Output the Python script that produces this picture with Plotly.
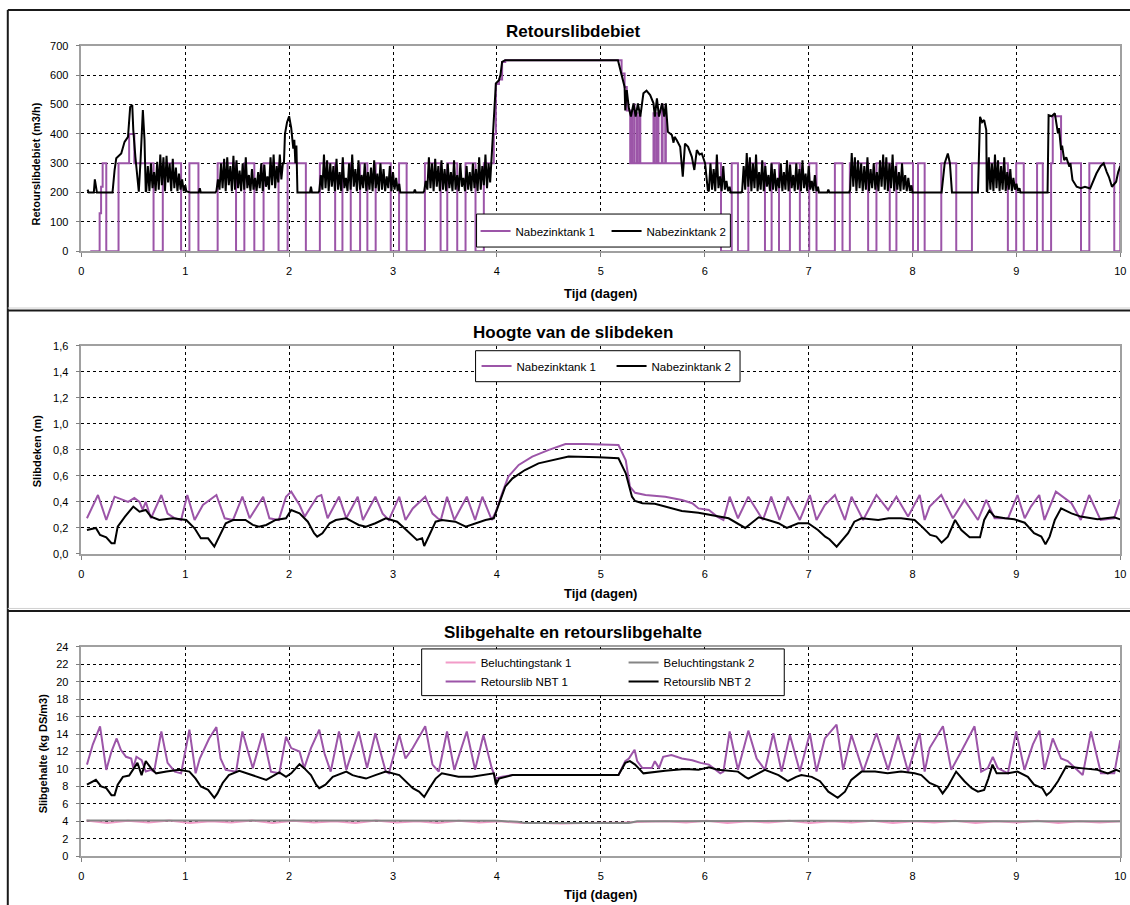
import numpy as np
import plotly.graph_objects as go

W, H = 1130, 905
FONT = "Liberation Sans, Arial, sans-serif"
PURPLE = "#9C55A8"
BLACK = "#000000"
PINK = "#F29BC8"
GRAY = "#858585"

# ---------------- Panel 1: Retourslibdebiet (m3/h) ----------------
# Nabezinktank 1 (step series: value holds until next time)
nbt1_flow_t = [0.086, 0.176, 0.19, 0.205, 0.24, 0.358, 0.46, 0.51, 0.695, 0.784,
               0.96, 1.04, 1.127, 1.312, 1.489, 1.569, 1.665, 1.754, 1.898, 1.985,
               2.161, 2.296, 2.443, 2.513, 2.593, 2.683, 2.753, 2.833, 2.978, 3.058,
               3.131, 3.307, 3.458, 3.522, 3.618, 3.698, 3.794, 3.874, 3.954, 3.97,
               3.99, 4.02, 4.05, 4.08, 5.165, 5.20, 5.229, 5.25, 5.283, 5.29,
               5.30, 5.32, 5.325, 5.347, 5.355, 5.375, 5.38, 5.507, 5.52, 5.54,
               5.555, 5.587, 5.595, 5.62, 5.626, 6.157, 6.26, 6.32,
               6.42, 6.58, 6.644, 6.715, 6.82, 6.916, 7.006, 7.076, 7.253, 7.326,
               7.397, 7.573, 7.653, 7.781, 7.845, 8.005, 8.053, 8.117, 8.277, 8.421,
               8.572, 8.918, 8.998, 9.071, 9.199, 9.254, 9.334, 9.35, 9.43, 9.622,
               9.702, 9.942, 10.0]
nbt1_flow_v = [0, 130, 220, 300, 0, 300, 400, 300, 0, 300,
               0, 300, 0, 300, 0, 300, 0, 300, 0, 300,
               0, 300, 0, 300, 0, 300, 0, 300, 0, 300,
               0, 300, 0, 300, 0, 300, 0, 300, 300, 400,
               570, 585, 645, 651, 651, 606, 560, 480, 300, 480,
               300, 500, 300, 470, 300, 460, 300, 470, 300, 470,
               300, 500, 300, 480, 300, 0, 300, 0,
               300, 0, 300, 0, 300, 0, 300, 0, 300, 0,
               300, 0, 300, 0, 300, 0, 300, 0, 300, 0,
               300, 0, 300, 0, 300, 0, 300, 460, 300, 0,
               300, 0, 300]

# Nabezinktank 2: smooth parts (key points)
nbt2_key_t = [0.06, 0.07, 0.12, 0.13, 0.15, 0.30, 0.32, 0.336, 0.384, 0.416,
              0.449, 0.47, 0.49, 0.50, 0.52, 0.553, 0.57, 0.592, 0.608, 0.62,
              1.01, 1.05, 1.13, 1.14, 1.15, 1.29,
              1.95, 1.96, 1.98, 2.00, 2.02, 2.04, 2.05, 2.06, 2.07, 2.08, 2.20, 2.21, 2.22, 2.28,
              3.07, 3.20, 3.21, 3.22, 3.29,
              3.963, 3.99, 4.02, 4.034, 4.05, 4.08, 5.165, 5.20, 5.229, 5.235,
              5.25, 5.27, 5.29, 5.315, 5.335, 5.357, 5.38, 5.41, 5.44, 5.475,
              5.507, 5.52, 5.54, 5.56, 5.59, 5.61, 5.626, 5.645, 5.684, 5.70,
              5.71, 5.73, 5.764, 5.789, 5.81, 5.84, 5.876, 5.90, 5.924, 5.95,
              5.972, 6.004, 6.03,
              6.25, 6.35,
              7.10, 7.18, 7.19, 7.20, 7.39,
              8.00, 8.28, 8.31, 8.34, 8.36, 8.38, 8.63, 8.65, 8.67, 8.69, 8.71, 8.715,
              9.04, 9.30, 9.31, 9.34, 9.37, 9.40, 9.41, 9.43, 9.44, 9.46,
              9.48, 9.51, 9.52, 9.54, 9.58, 9.62, 9.66, 9.71, 9.74, 9.77,
              9.81, 9.84, 9.87, 9.89, 9.92, 9.96, 9.98, 10.0]
nbt2_key_v = [210, 200, 200, 245, 200, 200, 277, 317, 333, 373,
              390, 492, 498, 413, 322, 203, 311, 481, 379, 203,
              205, 200, 200, 215, 200, 200,
              300, 400, 440, 460, 420, 350, 380, 300, 360, 200, 200, 220, 200, 200,
              200, 200, 210, 200, 200,
              402, 572, 583, 600, 645, 651, 651, 606, 560, 480,
              549, 487, 459, 504, 459, 504, 459, 538, 547, 532,
              504, 459, 521, 459, 504, 459, 504, 407, 396, 370,
              390, 379, 356, 254, 367, 356, 322, 277, 345, 330,
              333, 299, 208,
              200, 200,
              200, 200, 210, 200, 200,
              200, 200, 300, 333, 300, 200, 200, 458, 440, 447, 413, 203,
              200, 200, 464, 460, 470, 402, 420, 345, 360, 311,
              320, 288, 300, 243, 220, 215, 220, 214, 240, 265,
              290, 300, 270, 254, 220, 237, 270, 290]

# Nabezinktank 2: fluctuating stretches (values read as spikes)
noise_a = [205, 290, 205, 300, 215, 270, 205, 305, 210, 330, 225, 320, 205, 325, 235, 300,
           205, 315, 215, 285, 205, 265, 210, 245, 205, 225]
noise_b = [205, 245, 210, 300, 215, 315, 205, 320, 225, 290, 205, 325, 210, 310, 215, 275,
           205, 300, 210, 320, 215, 260, 205, 280, 210, 250, 205, 270, 215, 300, 205, 295,
           220, 255, 210, 320, 225, 330, 215, 290, 235, 330, 245, 300]
noise_c = [205, 260, 210, 330, 215, 310, 205, 300, 220, 290, 205, 315, 210, 270, 205, 320,
           215, 250, 205, 300, 210, 330, 220, 280, 205, 310, 210, 260, 215, 300, 205, 270,
           210, 285, 205, 310, 215, 265, 205, 300, 210, 280, 205, 255, 215, 290, 205, 270,
           210, 250, 205, 230]
noise_d = [205, 240, 210, 320, 215, 300, 205, 315, 220, 290, 205, 310, 210, 280, 205, 300,
           215, 270, 205, 310, 210, 260, 205, 300, 220, 250, 205, 290, 210, 270, 205, 300,
           215, 280, 205, 320, 210, 290, 225, 330, 215, 300, 235, 320]
noise_e = [205, 300, 210, 280, 205, 330, 215, 255, 205, 290, 210, 240, 205, 220]
noise_f = [205, 290, 210, 335, 220, 320, 205, 300, 215, 330, 205, 270, 210, 310, 205, 290,
           220, 260, 205, 300, 210, 280, 205, 250, 215, 300, 205, 270, 210, 310, 205, 295,
           215, 260, 205, 300, 210, 280, 205, 310, 215, 265, 205, 290, 210, 240, 205, 260,
           205, 220]
noise_g = [210, 335, 220, 320, 205, 310, 215, 300, 205, 290, 210, 320, 205, 280, 215, 300,
           210, 270, 205, 310, 220, 330, 210, 320, 205, 300, 215, 330, 205, 290, 210, 270,
           205, 300, 210, 260, 205, 250, 205, 225]
noise_h = [205, 320, 210, 300, 205, 330, 215, 310, 205, 290, 210, 320, 205, 270, 210, 280,
           205, 250, 210, 230, 205, 215]
noise_spans = [(0.625, 1.00), (1.30, 1.94), (2.29, 3.06), (3.30, 3.95),
               (6.04, 6.24), (6.36, 7.09), (7.40, 7.99), (8.72, 9.03)]

# ---------------- Panel 2: Slibdeken (m) ----------------
blanket1_t = [0.054, 0.16, 0.24, 0.32, 0.40, 0.45, 0.51, 0.56, 0.59, 0.62,
              0.67, 0.77, 0.83, 0.90, 0.96, 1.02, 1.09, 1.17, 1.30, 1.38,
              1.46, 1.55, 1.62, 1.75, 1.81, 1.90, 1.97, 2.02, 2.10, 2.15,
              2.27, 2.31, 2.37, 2.48, 2.55, 2.66, 2.71, 2.83, 2.90, 2.96,
              3.06, 3.12, 3.19, 3.31, 3.38, 3.43, 3.46, 3.52, 3.59, 3.71,
              3.79, 3.86, 3.95, 3.99, 4.05, 4.11, 4.21, 4.34, 4.50, 4.66,
              4.85, 5.17, 5.24, 5.28, 5.33, 5.43, 5.62, 5.78, 5.88, 5.94,
              6.04, 6.12, 6.18, 6.24, 6.32, 6.42, 6.50, 6.56, 6.64, 6.72,
              6.80, 6.916, 7.012, 7.076, 7.156, 7.253, 7.349, 7.413, 7.525, 7.653,
              7.765, 7.845, 7.957, 8.069, 8.117, 8.165, 8.277, 8.389, 8.50, 8.63,
              8.71, 8.79, 8.92, 9.01, 9.08, 9.14, 9.22, 9.27, 9.38, 9.45,
              9.53, 9.62, 9.70, 9.81, 9.94, 10.0]
blanket1_v = [0.274, 0.453, 0.261, 0.44, 0.415, 0.40, 0.43, 0.40, 0.34, 0.40,
              0.274, 0.453, 0.31, 0.274, 0.261, 0.453, 0.261, 0.376, 0.453, 0.274,
              0.261, 0.44, 0.274, 0.44, 0.274, 0.261, 0.44, 0.479, 0.376, 0.287,
              0.44, 0.453, 0.274, 0.44, 0.274, 0.44, 0.261, 0.44, 0.31, 0.261,
              0.44, 0.261, 0.35, 0.44, 0.31, 0.274, 0.261, 0.44, 0.261, 0.44,
              0.261, 0.44, 0.261, 0.325, 0.466, 0.594, 0.684, 0.748, 0.80, 0.845,
              0.845, 0.837, 0.72, 0.517, 0.47, 0.453, 0.44, 0.415, 0.39, 0.35,
              0.338, 0.287, 0.261, 0.44, 0.274, 0.44, 0.338, 0.261, 0.44, 0.261,
              0.44, 0.261, 0.453, 0.261, 0.376, 0.453, 0.261, 0.44, 0.261, 0.453,
              0.338, 0.44, 0.287, 0.453, 0.261, 0.364, 0.453, 0.274, 0.415, 0.261,
              0.415, 0.274, 0.274, 0.453, 0.274, 0.364, 0.453, 0.261, 0.479, 0.44,
              0.39, 0.261, 0.453, 0.261, 0.274, 0.42]

blanket2_t = [0.054, 0.14, 0.18, 0.24, 0.29, 0.32, 0.35, 0.42, 0.50, 0.56,
              0.62, 0.67, 0.75, 0.88, 1.01, 1.09, 1.15, 1.22, 1.28, 1.33,
              1.39, 1.46, 1.58, 1.65, 1.71, 1.78, 1.87, 1.97, 2.02, 2.10,
              2.18, 2.24, 2.27, 2.32, 2.39, 2.45, 2.55, 2.61, 2.67, 2.74,
              2.83, 2.93, 3.04, 3.11, 3.19, 3.23, 3.28, 3.30, 3.35, 3.41,
              3.47, 3.60, 3.70, 3.79, 3.89, 3.97, 4.02, 4.08, 4.15, 4.27,
              4.40, 4.56, 4.69, 4.98, 5.17, 5.24, 5.30, 5.33, 5.40, 5.52,
              5.62, 5.78, 5.94, 6.07, 6.23, 6.39, 6.52, 6.61, 6.71, 6.79,
              6.90, 6.996, 7.09, 7.16, 7.20, 7.27, 7.33, 7.38, 7.44, 7.51,
              7.67, 7.77, 7.89, 8.02, 8.09, 8.17, 8.23, 8.28, 8.34, 8.41,
              8.47, 8.55, 8.65, 8.69, 8.74, 8.79, 8.89, 8.98, 9.08, 9.17,
              9.24, 9.28, 9.32, 9.37, 9.43, 9.53, 9.62, 9.78, 9.94, 10.0]
blanket2_v = [0.184, 0.2, 0.146, 0.128, 0.082, 0.082, 0.21, 0.287, 0.364, 0.325,
              0.338, 0.287, 0.261, 0.274, 0.261, 0.197, 0.12, 0.12, 0.056, 0.133,
              0.236, 0.261, 0.261, 0.223, 0.21, 0.223, 0.261, 0.274, 0.338, 0.312,
              0.248, 0.159, 0.133, 0.159, 0.236, 0.261, 0.274, 0.248, 0.223, 0.21,
              0.236, 0.274, 0.248, 0.197, 0.133, 0.108, 0.12, 0.061, 0.146, 0.248,
              0.261, 0.248, 0.21, 0.236, 0.261, 0.274, 0.389, 0.517, 0.581, 0.645,
              0.696, 0.727, 0.748, 0.743, 0.735, 0.62, 0.44, 0.407, 0.39, 0.385,
              0.364, 0.33, 0.317, 0.30, 0.274, 0.2, 0.282, 0.261, 0.236, 0.2,
              0.236, 0.236, 0.184, 0.133, 0.113, 0.056, 0.108, 0.159, 0.248, 0.274,
              0.261, 0.274, 0.274, 0.261, 0.21, 0.146, 0.133, 0.087, 0.133, 0.261,
              0.184, 0.128, 0.128, 0.261, 0.333, 0.287, 0.274, 0.266, 0.24, 0.159,
              0.133, 0.074, 0.133, 0.261, 0.35, 0.312, 0.287, 0.266, 0.282, 0.266]

# ---------------- Panel 3: Slibgehalte (kg DS/m3) ----------------
aer1_v = [4.1, 3.8, 4.05, 3.85, 4.1, 3.8, 4.0, 3.85, 4.1, 3.8,
          4.05, 3.85, 4.0, 3.8, 4.1, 3.85, 4.0, 3.8, 4.05, 3.85,
          4.0, 3.8, 3.8, 3.75, 3.8, 3.8, 3.85, 3.95, 4.0, 3.85,
          4.05, 3.8, 4.0, 3.85, 4.05, 3.8, 4.0, 3.85, 4.05, 3.8,
          4.0, 3.85, 4.05, 3.8, 4.0, 3.85, 4.05, 3.8, 4.0, 3.85, 4.0]
aer1_t = np.linspace(0.05, 10.0, len(aer1_v))
aer2_t = [0.05, 2.0, 4.0, 4.2, 4.27, 5.27, 5.35, 7.0, 10.0]
aer2_v = [4.1, 4.05, 4.05, 3.95, 3.8, 3.8, 4.0, 4.05, 4.0]

ras1_t = [0.054, 0.11, 0.18, 0.24, 0.29, 0.34, 0.38, 0.43, 0.48, 0.50,
          0.53, 0.58, 0.62, 0.67, 0.70, 0.77, 0.83, 0.90, 0.96, 1.04,
          1.10, 1.14, 1.23, 1.30, 1.34, 1.39, 1.49, 1.55, 1.65, 1.745,
          1.825, 1.905, 1.97, 2.02, 2.10, 2.145, 2.21, 2.29, 2.34, 2.40,
          2.48, 2.55, 2.67, 2.75, 2.83, 2.93, 2.96,
          3.06, 3.12, 3.19, 3.31, 3.38, 3.44, 3.52, 3.59, 3.71, 3.79,
          3.87, 3.95, 3.99, 4.05, 4.15, 5.17, 5.235, 5.27, 5.325, 5.35,
          5.40, 5.49, 5.52, 5.56, 5.60, 5.68, 5.78, 5.88, 5.96, 6.04,
          6.10, 6.15, 6.18, 6.24, 6.32, 6.42, 6.50, 6.58, 6.66, 6.74, 6.82,
          6.916, 7.012, 7.076, 7.156, 7.269, 7.333, 7.413, 7.525, 7.653, 7.765,
          7.861, 7.957, 8.069, 8.117, 8.165, 8.293, 8.373, 8.469, 8.597, 8.661,
          8.725, 8.773, 8.82, 8.918, 8.998, 9.078, 9.158, 9.222, 9.27, 9.35,
          9.43, 9.494, 9.638, 9.718, 9.814, 9.942, 10.0]
ras1_v = [10.5, 12.8, 14.9, 9.9, 12.0, 13.5, 12.2, 11.4, 11.2, 10.1,
          11.4, 11.0, 9.7, 9.9, 9.7, 14.3, 10.7, 9.7, 9.5, 14.5,
          9.5, 11.2, 13.5, 14.8, 11.2, 9.9, 9.7, 14.3, 10.1, 14.1,
          9.7, 9.5, 13.7, 12.4, 12.0, 10.1, 12.4, 14.5, 11.8, 9.7,
          14.3, 9.9, 14.3, 10.1, 14.1, 9.7, 9.5,
          13.9, 11.2, 12.4, 14.9, 10.5, 9.7, 14.3, 9.9, 14.3, 9.9,
          13.9, 10.1, 8.9, 9.1, 9.3, 9.3, 10.9, 11.2, 12.2, 10.9,
          10.1, 10.1, 10.9, 10.1, 11.4, 11.6, 11.2, 11.0, 10.7, 10.5,
          9.9, 9.5, 9.7, 14.3, 9.9, 14.4, 11.2, 9.9, 14.1, 9.7, 13.9,
          9.7, 14.1, 9.7, 13.5, 15.1, 9.9, 13.9, 9.7, 14.1, 9.9,
          13.9, 9.7, 14.1, 9.7, 12.4, 14.9, 9.9, 12.0, 14.9, 9.7,
          10.1, 11.4, 10.1, 9.5, 14.3, 9.9, 12.8, 14.4, 9.9, 13.5,
          11.2, 10.9, 9.3, 14.3, 9.5, 9.5, 13.3]

ras2_t = [0.054, 0.14, 0.19, 0.24, 0.29, 0.32, 0.35, 0.40, 0.46, 0.51,
          0.54, 0.58, 0.62, 0.67, 0.72, 0.82, 0.94, 1.04, 1.10, 1.15,
          1.22, 1.28, 1.31, 1.36, 1.42, 1.52, 1.65, 1.78, 1.905, 1.97,
          2.02, 2.10, 2.145, 2.21, 2.26, 2.29, 2.35, 2.42, 2.55, 2.61,
          2.67, 2.74, 2.83, 2.93,
          3.06, 3.12, 3.19, 3.25, 3.30, 3.35, 3.41, 3.47, 3.63, 3.76,
          3.89, 3.97, 3.99, 4.02, 4.15, 5.17, 5.235, 5.28, 5.33, 5.41,
          5.62, 5.81, 5.94, 6.04, 6.13, 6.32, 6.39, 6.42, 6.58, 6.71,
          6.80, 6.88,
          6.93, 7.03, 7.11, 7.19, 7.28, 7.35, 7.41, 7.51, 7.64, 7.76,
          7.89, 8.02, 8.085, 8.165, 8.245, 8.29, 8.34, 8.42, 8.50, 8.57,
          8.63, 8.69, 8.73, 8.77, 8.81, 8.92, 9.01, 9.11, 9.17, 9.25,
          9.29, 9.33, 9.40, 9.48, 9.62, 9.78, 9.88, 9.96, 10.0]
ras2_v = [8.2, 8.75, 8.0, 7.8, 7.0, 7.0, 8.2, 9.1, 9.25, 10.1,
          10.7, 9.3, 10.9, 10.1, 9.5, 9.7, 9.9, 9.7, 8.9, 8.0,
          7.6, 6.7, 7.2, 8.4, 9.3, 9.8, 9.3, 8.75, 9.6, 9.1,
          9.5, 10.55, 10.1, 9.3, 8.2, 7.8, 8.2, 9.1, 9.7, 9.3,
          9.1, 8.9, 9.3, 9.7,
          9.3, 8.6, 7.8, 7.4, 6.8, 7.8, 8.9, 9.5, 9.1, 9.1,
          9.3, 9.5, 8.2, 8.9, 9.3, 9.3, 10.7, 10.9, 10.5, 9.5,
          9.8, 10.0, 9.9, 10.2, 9.9, 9.7, 9.1, 8.9, 9.9, 9.3,
          8.6, 9.1,
          9.3, 9.1, 8.6, 7.4, 6.7, 7.4, 8.75, 9.7, 9.7, 9.5,
          9.7, 9.5, 9.3, 8.4, 8.0, 7.2, 8.0, 9.7, 8.6, 7.8,
          7.4, 7.6, 8.9, 10.5, 9.5, 9.5, 9.7, 9.1, 8.2, 7.8,
          7.0, 7.4, 8.6, 10.3, 10.1, 9.9, 9.5, 9.9, 9.7]

# ---------------- text ----------------
titles = ["Retourslibdebiet", "Hoogte van de slibdeken", "Slibgehalte en retourslibgehalte"]
ytitles = ["Retourslibdebiet (m3/h)", "Slibdeken (m)", "Slibgehalte (kg DS/m3)"]
xtitle = "Tijd (dagen)"

# ---------------- build black flow series ----------------
pts = list(zip(nbt2_key_t, nbt2_key_v))
for (t0, t1), vals in zip(noise_spans, [noise_a, noise_b, noise_c, noise_d,
                                         noise_e, noise_f, noise_g, noise_h]):
    pts += list(zip(np.linspace(t0, t1, len(vals)), vals))
pts.sort(key=lambda p: p[0])
nbt2_t = [p[0] for p in pts]
nbt2_v = [p[1] for p in pts]

# page-to-figure correction (the photographed page is slightly shifted/scaled)
SX, OX = 0.994, 3.2
SY, OY = 0.987, 5.9


def px(x):
    return ((x - OX) / SX) / W


def py(y):
    return 1 - ((y - OY) / SY) / H


fig = go.Figure()
# panel 1
fig.add_trace(go.Scatter(x=nbt1_flow_t, y=nbt1_flow_v, mode="lines", line_shape="hv",
                         name="Nabezinktank 1", line=dict(color=PURPLE, width=2),
                         xaxis="x", yaxis="y", legend="legend"))
fig.add_trace(go.Scatter(x=nbt2_t, y=nbt2_v, mode="lines", name="Nabezinktank 2",
                         line=dict(color=BLACK, width=2), xaxis="x", yaxis="y", legend="legend"))
# panel 2
fig.add_trace(go.Scatter(x=blanket1_t, y=blanket1_v, mode="lines", name="Nabezinktank 1",
                         line=dict(color=PURPLE, width=2), xaxis="x2", yaxis="y2", legend="legend2"))
fig.add_trace(go.Scatter(x=blanket2_t, y=blanket2_v, mode="lines", name="Nabezinktank 2",
                         line=dict(color=BLACK, width=2), xaxis="x2", yaxis="y2", legend="legend2"))
# panel 3
fig.add_trace(go.Scatter(x=aer1_t, y=aer1_v, mode="lines", name="Beluchtingstank 1",
                         line=dict(color=PINK, width=2), xaxis="x3", yaxis="y3", legend="legend3"))
fig.add_trace(go.Scatter(x=aer2_t, y=aer2_v, mode="lines", name="Beluchtingstank 2",
                         line=dict(color=GRAY, width=2), xaxis="x3", yaxis="y3", legend="legend4"))
fig.add_trace(go.Scatter(x=ras1_t, y=ras1_v, mode="lines", name="Retourslib NBT 1",
                         line=dict(color=PURPLE, width=2), xaxis="x3", yaxis="y3", legend="legend3"))
fig.add_trace(go.Scatter(x=ras2_t, y=ras2_v, mode="lines", name="Retourslib NBT 2",
                         line=dict(color=BLACK, width=2), xaxis="x3", yaxis="y3", legend="legend4"))

xdom = [px(81.7), px(1122.7)]
ydoms = [[py(251.3), py(45.7)], [py(554.0), py(345.7)], [py(856.3), py(647.0)]]

axis_common = dict(showgrid=True, gridcolor="#000000", gridwidth=1, griddash="3px,3px",
                   showline=True, mirror=True, linecolor="#A0A0A0", linewidth=1.5,
                   ticks="outside", ticklen=4, tickcolor="#808080", zeroline=False,
                   ticklabeloverflow="allow",
                   tickfont=dict(family=FONT, size=11, color="#000000"))

layout = dict(width=W, height=H, autosize=False, margin=dict(l=0, r=0, t=0, b=0),
              paper_bgcolor="white", plot_bgcolor="white", separators=", ",
              font=dict(family=FONT, color="#000000"))
yranges = [[0, 700], [0, 1.6], [0, 24]]
ydticks = [100, 0.2, 2]
yfmt = ["d", ".1f", "d"]
for i in range(3):
    sfx = "" if i == 0 else str(i + 1)
    layout["xaxis" + sfx] = dict(domain=xdom, range=[0, 10], dtick=1, tick0=0,
                                 anchor="y" + sfx, ticklabelstandoff=5, **axis_common)
    layout["yaxis" + sfx] = dict(domain=ydoms[i], range=yranges[i], dtick=ydticks[i], tick0=0,
                                 tickformat=yfmt[i], anchor="x" + sfx, ticklabelstandoff=5,
                                 **axis_common)

leg_font = dict(family=FONT, size=11.5, color="#000000")
clear = dict(borderwidth=0, bgcolor="rgba(0,0,0,0)", font=leg_font, xanchor="left", yanchor="top")
layout["legend"] = dict(orientation="h", x=px(476.7), y=py(216.5), entrywidth=86, **clear)
layout["legend2"] = dict(orientation="h", x=px(477.7), y=py(351.5), entrywidth=90, **clear)
layout["legend3"] = dict(orientation="v", x=px(441.7), y=py(648), **clear)
layout["legend4"] = dict(orientation="v", x=px(625.0), y=py(648), **clear)


def line_shape(x0, y0, x1, y1, color="#1a1a1a", width=2):
    return dict(type="line", xref="paper", yref="paper", x0=px(x0), x1=px(x1), y0=py(y0), y1=py(y1),
                line=dict(color=color, width=width))


def box(x0, y0, x1, y1):
    return dict(type="rect", xref="paper", yref="paper", x0=px(x0), x1=px(x1), y0=py(y1), y1=py(y0),
                line=dict(color="#000000", width=1), fillcolor="white", layer="above")


shapes = [
    box(477.7, 214, 732, 247),
    box(476.7, 350.7, 741.7, 381.7),
    box(422.7, 649, 786, 695.7),
    line_shape(8, 10, 1135, 10),
    line_shape(8, 10, 8, 910),
    line_shape(8, 310.5, 1135, 310.5),
    line_shape(8, 611, 1135, 611),
    line_shape(8, 308, 1135, 308, "#D0D0D0", 1),
    line_shape(8, 608.5, 1135, 608.5, "#D0D0D0", 1),
]
layout["shapes"] = shapes

ann = []
title_y = [31.7, 332, 633]
xt_y = [293, 594, 895]
yt_x = [36.7, 38, 42.7]
yt_y = [164, 451.5, 753]
for i in range(3):
    ann.append(dict(text="<b>%s</b>" % titles[i], x=px(574), y=py(title_y[i]), xref="paper", yref="paper",
                    xanchor="center", yanchor="middle", showarrow=False,
                    font=dict(family=FONT, size=17, color="#000000")))
    ann.append(dict(text="<b>%s</b>" % xtitle, x=px(602), y=py(xt_y[i]), xref="paper", yref="paper",
                    xanchor="center", yanchor="middle", showarrow=False,
                    font=dict(family=FONT, size=13, color="#000000")))
    ann.append(dict(text="<b>%s</b>" % ytitles[i], x=px(yt_x[i]), y=py(yt_y[i]), xref="paper", yref="paper",
                    xanchor="center", yanchor="middle", showarrow=False, textangle=-90,
                    font=dict(family=FONT, size=11, color="#000000")))
layout["annotations"] = ann

fig.update_layout(**layout)
fig.write_html("out.html", config={"displayModeBar": False},
               post_script="document.body.style.margin='0';document.body.style.padding='0';"
                           "document.documentElement.style.overflow='hidden';")
